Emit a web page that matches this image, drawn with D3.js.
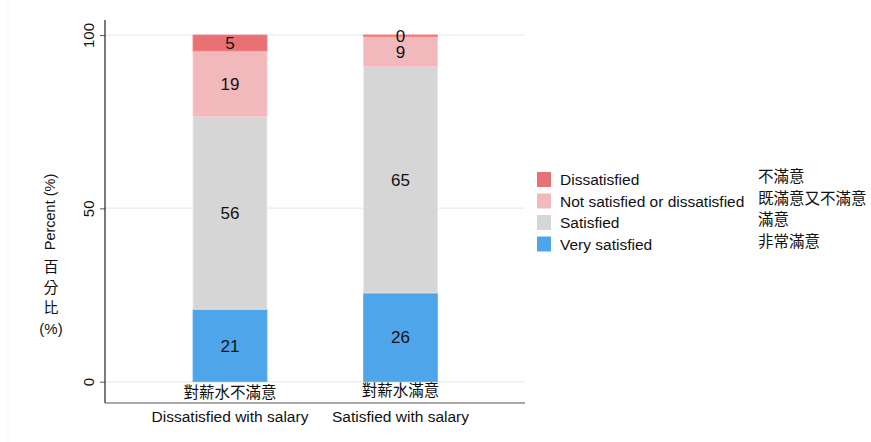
<!DOCTYPE html>
<html>
<head>
<meta charset="utf-8">
<script src="https://cdn.jsdelivr.net/npm/d3@7"></script>
<style>
  body { margin: 0; background: #fff; }
  svg { display: block; font-family: "Liberation Sans", Arial, sans-serif; }
</style>
</head>
<body>
<svg id="chart" width="871" height="442"></svg>
<script>
// Salary satisfaction groups
const groupsEn = ["Dissatisfied with salary", "Satisfied with salary"];
const groupsZh = ["對薪水不滿意", "對薪水滿意"];

// Response levels, bottom of the stack first
const levelsEn = ["Very satisfied", "Satisfied", "Not satisfied or dissatisfied", "Dissatisfied"];
const levelsZh = ["非常滿意", "滿意", "既滿意又不滿意", "不滿意"];
const levelColors = ["#4fa5ea", "#d6d6d6", "#f2b9bc", "#e87176"];

// Percentages per group, same order as levels
const veryS   = [20.9, 25.6];
const sat     = [55.6, 65.3];
const neither = [18.9, 8.7];
const dissat  = [4.6, 0.4];

const yTicks = [0, 50, 100];

const svg = d3.select("#chart");
const plot = { left: 105, right: 525, top: 20, bottom: 403 };

const y = d3.scaleLinear().domain([0, 100]).range([381.7, 35]);
const x = d3.scalePoint().domain(groupsEn).range([230, 400.5]);
const barW = 74;

const cjk = "'Noto Sans CJK TC', sans-serif";
const latin = "'Liberation Sans', Arial, sans-serif";

// Faint outer frame line on the left
svg.append("line").attr("x1", 8).attr("x2", 8).attr("y1", 0).attr("y2", 442)
  .attr("stroke", "#f3f5f7").attr("stroke-width", 1);

// Gridlines
svg.append("g").selectAll("line").data(yTicks).join("line")
  .attr("x1", plot.left).attr("x2", plot.right)
  .attr("y1", d => y(d)).attr("y2", d => y(d))
  .attr("stroke", "#eaf0f4").attr("stroke-width", 1.5);

// Stack data
const rows = groupsEn.map((g, i) => ({ group: g, v0: veryS[i], v1: sat[i], v2: neither[i], v3: dissat[i] }));
const series = d3.stack().keys(["v0", "v1", "v2", "v3"])(rows);

const gBars = svg.append("g");
series.forEach((s, k) => {
  gBars.selectAll(null).data(s).join("rect")
    .attr("x", d => x(d.data.group) - barW / 2)
    .attr("width", barW)
    .attr("y", d => y(d[1]))
    .attr("height", d => y(d[0]) - y(d[1]))
    .attr("fill", levelColors[k])
    .attr("stroke", d3.color(levelColors[k]).brighter(0.25))
    .attr("stroke-width", 0.8);
});

// Value labels
series.forEach((s, k) => {
  gBars.selectAll(null).data(s).join("text")
    .attr("x", d => x(d.data.group))
    .attr("y", d => y((d[0] + d[1]) / 2))
    .attr("dy", "0.36em")
    .attr("text-anchor", "middle")
    .attr("font-size", 17)
    .attr("fill", "#111")
    .text(d => d3.format(".0f")(d[1] - d[0]));
});

// Y axis
const gy = svg.append("g").attr("transform", `translate(${plot.left},0)`)
  .call(d3.axisLeft(y).tickValues(yTicks).tickSize(5));
gy.select(".domain").remove();
gy.selectAll(".tick line").attr("stroke", "#555");
gy.selectAll(".tick text")
  .attr("font-size", 15).attr("fill", "#111")
  .attr("font-family", latin)
  .attr("transform", "rotate(-90)")
  .attr("x", 0).attr("y", -11).attr("dy", 0)
  .attr("text-anchor", "middle");

svg.append("line").attr("x1", plot.left).attr("x2", plot.left)
  .attr("y1", plot.top).attr("y2", plot.bottom).attr("stroke", "#222").attr("stroke-width", 1.2);
svg.append("line").attr("x1", plot.left).attr("x2", plot.right)
  .attr("y1", plot.bottom).attr("y2", plot.bottom).attr("stroke", "#555").attr("stroke-width", 1.2);

// Y axis title
svg.append("text")
  .attr("transform", "translate(55,212) rotate(-90)")
  .attr("text-anchor", "middle").attr("font-size", 14.5).attr("fill", "#111")
  .text("Percent (%)");
const zhTitle = ["百", "分", "比", "(%)"];
svg.append("g").selectAll("text").data(zhTitle).join("text")
  .attr("x", 51).attr("y", (d, i) => 272 + i * 20.5)
  .attr("text-anchor", "middle").attr("font-size", 15).attr("fill", "#111")
  .attr("font-family", (d, i) => i < 3 ? cjk : latin)
  .text(d => d);

// Category labels
svg.append("g").selectAll("text").data(groupsZh).join("text")
  .attr("x", (d, i) => x(groupsEn[i])).attr("y", (d, i) => i === 0 ? 398 : 396)
  .attr("text-anchor", "middle").attr("font-size", 15.5).attr("fill", "#111")
  .attr("font-family", cjk)
  .text(d => d);
svg.append("g").selectAll("text").data(groupsEn).join("text")
  .attr("x", d => x(d)).attr("y", 422)
  .attr("text-anchor", "middle").attr("font-size", 15.5).attr("fill", "#111")
  .text(d => d);

// Legend, top row is the top of the stack
const legendOrder = [3, 2, 1, 0];
const lg = svg.append("g");
legendOrder.forEach((k, r) => {
  const yy = 172 + r * 21.5;
  lg.append("rect").attr("x", 537).attr("y", yy).attr("width", 14).attr("height", 15)
    .attr("fill", levelColors[k]);
  lg.append("text").attr("x", 560).attr("y", yy + 13).attr("font-size", 15.5).attr("fill", "#111")
    .text(levelsEn[k]);
  lg.append("text").attr("x", 758).attr("y", yy + 10).attr("font-size", 15.5).attr("fill", "#111")
    .attr("font-family", cjk)
    .text(levelsZh[k]);
});
</script>
</body>
</html>
